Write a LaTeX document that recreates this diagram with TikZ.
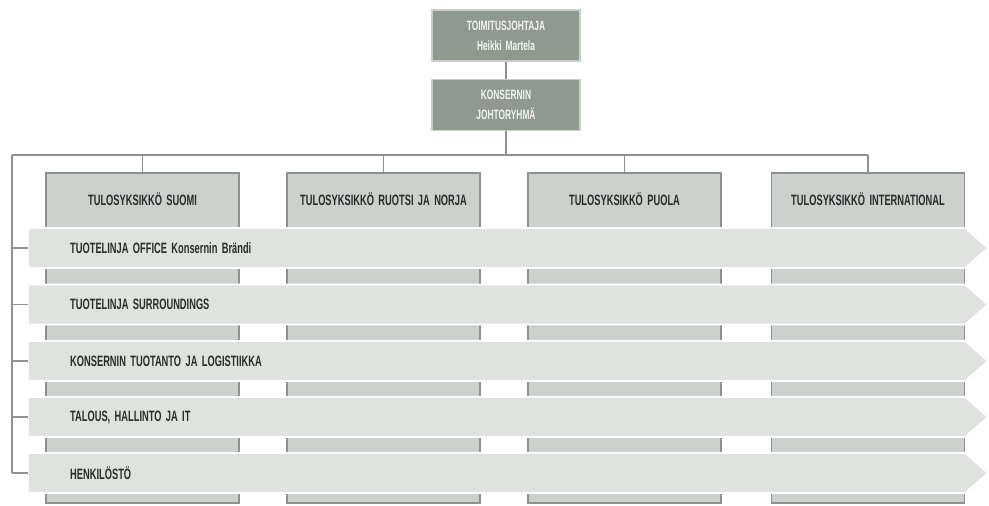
\documentclass[tikz,border=0pt]{standalone}
\usepackage{fontspec}
\setmainfont{Liberation Sans}[FakeStretch=0.62]
\newfontfamily\lbl{Liberation Sans}[FakeStretch=0.62,WordSpace=1.7,UprightFont=* Bold]
\definecolor{topfill}{HTML}{8E9A90}
\definecolor{topdraw}{HTML}{C9CEC9}
\definecolor{colfill}{HTML}{CDD1CE}
\definecolor{coldraw}{HTML}{8E928F}
\definecolor{arrfill}{HTML}{DFE2DF}
\definecolor{linec}{HTML}{8F918F}
\definecolor{txt}{HTML}{2A2C2A}
\definecolor{toptxt}{HTML}{F2F4F2}
\begin{document}
\begin{tikzpicture}[x=1pt,y=-1pt,
  topbox/.style={rectangle,fill=topfill,draw=topdraw,line width=1.2pt,minimum width=148pt,minimum height=51pt,
    text=toptxt,font=\lbl\fontsize{13.5}{20}\selectfont,align=center,inner sep=0pt},
  colbox/.style={rectangle,fill=colfill,draw=coldraw,line width=1.3pt,minimum width=193pt,minimum height=330pt,inner sep=0pt},
  colhead/.style={text=txt,font=\lbl\fontsize{15}{17}\selectfont,inner sep=0pt},
  arrtxt/.style={text=txt,font=\lbl\fontsize{15}{17}\selectfont,inner sep=0pt,anchor=west},
  arrshape/.style={fill=arrfill,draw=white,line width=1.6pt},
  conn/.style={draw=linec,line width=1.8pt}]
\useasboundingbox (0,0) rectangle (989,506);
\fill[white] (0,0) rectangle (989,506);

% top boxes
\node[topbox] (ceo) at (506,35.5) {TOIMITUSJOHTAJA\\Heikki Martela};
\node[topbox] (grp) at (506,105) {KONSERNIN\\JOHTORYHMÄ};
\coordinate (bus) at (506,155);
\coordinate (busL) at (12,155);
\coordinate (busR) at (868,155);
\draw[conn] (ceo.south) -- (grp.north);
\draw[conn] (grp.south) -- (bus);
\draw[conn] (busL) -- (busR);

% columns
\foreach \i/\cx/\t in {1/142.5/TULOSYKSIKKÖ SUOMI,2/383.5/TULOSYKSIKKÖ RUOTSI JA NORJA,3/624.5/TULOSYKSIKKÖ PUOLA,4/868/TULOSYKSIKKÖ INTERNATIONAL}{
  \node[colbox] (col\i) at (\cx,338) {};
  \draw[conn] (\cx,155) -- (col\i.north);
  \node[colhead] (head\i) at (\cx,199) {\t};
}

% left tree
\coordinate (treeEnd) at (12,473);
\draw[conn] (busL) -- (treeEnd);

% rows
\foreach \j/\ty/\t in {1/228/TUOTELINJA OFFICE Konsernin Brändi,2/284.5/TUOTELINJA SURROUNDINGS,3/341/KONSERNIN TUOTANTO JA LOGISTIIKKA,4/397/{TALOUS, HALLINTO JA IT},5/453/HENKILÖSTÖ}{
  \path[arrshape] (28,\ty) -- (965,\ty) -- (988,\ty+20) -- (965,\ty+40) -- (28,\ty+40) -- cycle;
  \coordinate (tick\j) at (12,\ty+20);
  \coordinate (arr\j) at (28,\ty+20);
  \draw[conn] (tick\j) -- (arr\j);
  \node[arrtxt] (row\j) at (70,\ty+20) {\t};
}
\end{tikzpicture}
\end{document}
